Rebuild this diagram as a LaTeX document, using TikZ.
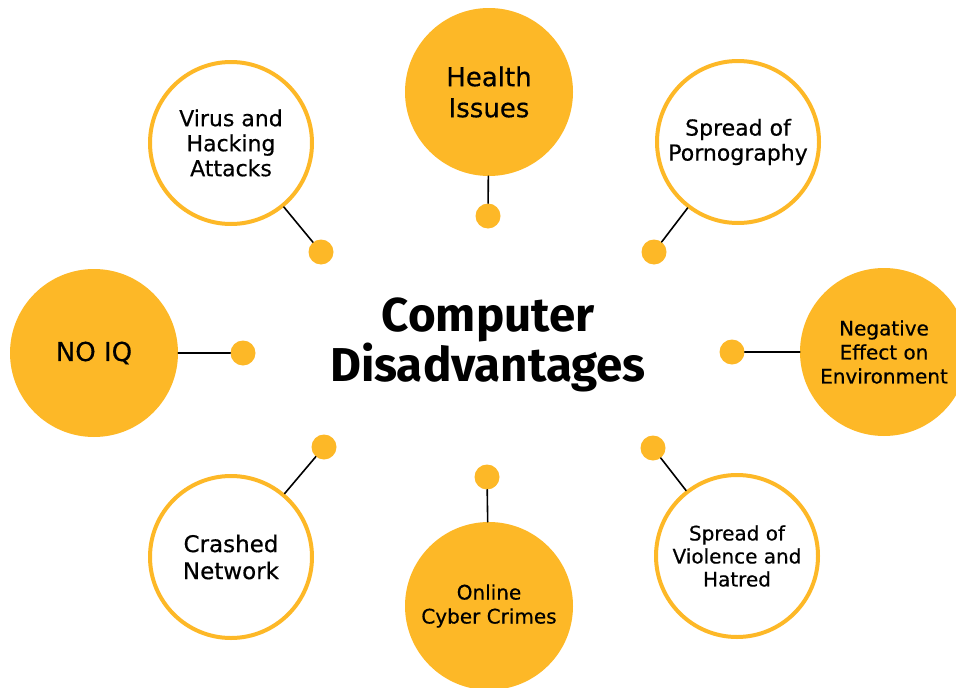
\documentclass[tikz,border=0pt]{standalone}
\usepackage{fontspec}
\setmainfont{DejaVu Sans}[UprightFeatures={FakeBold=0.5}]
\newfontfamily\titlefont{Fira Sans}
\usepackage{tikz}
\usetikzlibrary{arrows}
\definecolor{gold}{RGB}{253,184,39}

\begin{document}
\begin{tikzpicture}[line cap=round,line join=round,x=1pt,y=-1pt,
  full/.style={circle,fill=gold,minimum size=168pt,inner sep=0pt,align=center},
  ring/.style={circle,draw=gold,line width=4pt,fill=white,minimum size=162pt,inner sep=0pt,align=center},
  knob/.style={circle,fill=gold,minimum size=25pt,inner sep=0pt},
  link/.style={line width=1.6pt,color=black}]
\useasboundingbox (0,0) rectangle (956,688);
\clip (0,0) rectangle (956,688);
\node[font=\titlefont\bfseries\fontsize{47.5}{43}\selectfont,align=center] (title) at (488,345) {Computer\\Disadvantages};
\node[full,font=\fontsize{26}{31}\selectfont] (health) at (489,92) {Health\\Issues};
\node[ring,font=\fontsize{22}{25}\selectfont] (porn) at (738,142) {Spread of\\Pornography};
\node[full,font=\fontsize{20}{24}\selectfont] (env) at (884,352) {Negative\\Effect on\\Environment};
\node[ring,font=\fontsize{20}{23}\selectfont] (hate) at (737,556) {Spread of\\Violence and\\Hatred};
\node[full,font=\fontsize{20}{24}\selectfont] (cyber) at (489,606) {Online\\Cyber Crimes};
\node[ring,font=\fontsize{23}{27}\selectfont] (crash) at (231,557) {Crashed\\Network};
\node[full,font=\fontsize{26}{31}\selectfont] (noiq) at (94,353) {NO IQ};
\node[ring,font=\fontsize{22}{25}\selectfont] (virus) at (231,143) {Virus and\\Hacking\\Attacks};
\node[knob] (k1) at (488,216) {};
\node[knob] (k2) at (654,252) {};
\node[knob] (k3) at (732,352) {};
\node[knob] (k4) at (653,448) {};
\node[knob] (k5) at (487,477) {};
\node[knob] (k6) at (324,447) {};
\node[knob] (k7) at (243,353) {};
\node[knob] (k8) at (321,252) {};
\draw[link] (k1) -- (health);
\draw[link] (k2) -- (porn);
\draw[link] (k3) -- (env);
\draw[link] (k4) -- (hate);
\draw[link] (k5) -- (cyber);
\draw[link] (k6) -- (crash);
\draw[link] (k7) -- (noiq);
\draw[link] (k8) -- (virus);
\end{tikzpicture}
\end{document}
